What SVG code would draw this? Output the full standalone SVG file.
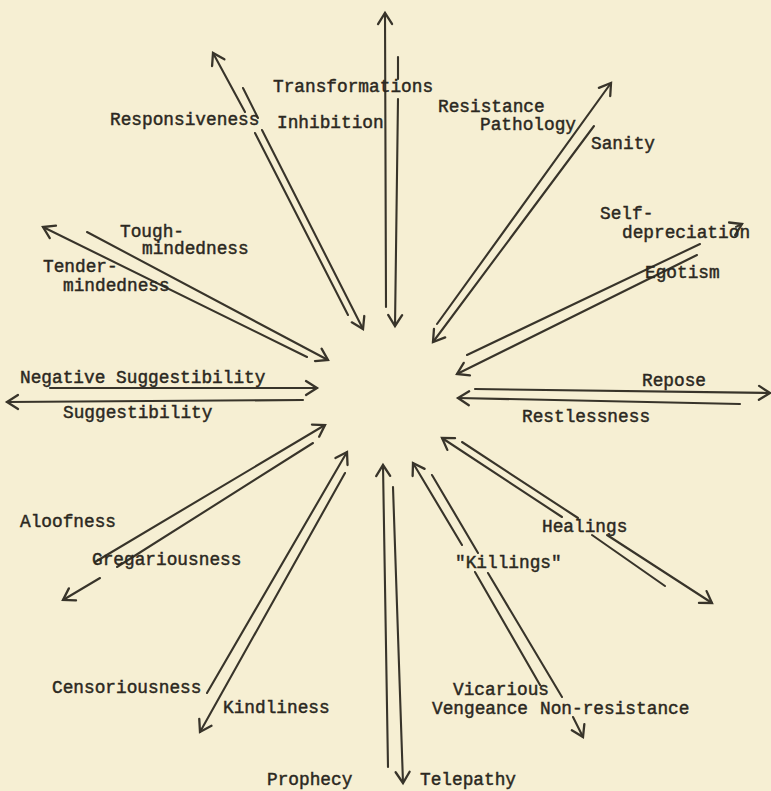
<svg xmlns="http://www.w3.org/2000/svg" width="771" height="791" viewBox="0 0 771 791">
<defs>
<style>
.t{font-family:"Liberation Mono","DejaVu Sans Mono",monospace;font-size:17.8px;fill:#2b2821;stroke:#2b2821;stroke-width:0.45px}
.c path{fill:none;stroke:#38342a;stroke-width:2.1;stroke-linecap:round}
.c path.a{marker-end:url(#ah)}
</style>
<marker id="ah" markerUnits="userSpaceOnUse" viewBox="-13 -10 15 20" markerWidth="15" markerHeight="20" refX="0" refY="0" orient="auto" overflow="visible">
<path d="M-11,-7 L0,0 L-11,7" fill="none" stroke="#38342a" stroke-width="2.3" stroke-linecap="round" stroke-linejoin="miter"/>
</marker>
</defs>
<rect width="771" height="791" fill="#f6efd3"/>
<g id="connectors" class="c">
<path class="a" d="M386 307 L385 13"/>
<path class="a" d="M398 57 L398 79 M398 99 L395 326"/>
<path class="a" d="M348 315 L255 133 M245 112 L213 53"/>
<path class="a" d="M243 88 L258 118 M262 130 L363 329"/>
<path class="a" d="M437 324 L611 83"/>
<path class="a" d="M594 126 L433 342"/>
<path d="M467 355 L700 244"/>
<path class="a" d="M736 226.9 L742 224"/>
<path class="a" d="M697 255 L457 374"/>
<path class="a" d="M475 389 L770 393"/>
<path class="a" d="M740 404 L458 398"/>
<path class="a" d="M50 388 L317 388"/>
<path class="a" d="M303 400 L7 402"/>
<path class="a" d="M307 357 L43 227"/>
<path class="a" d="M87 232 L328 360"/>
<path class="a" d="M95 562 L325 425"/>
<path class="a" d="M313 443 L117 567 M100 578 L63 600"/>
<path class="a" d="M207 693 L347 452"/>
<path class="a" d="M345 473 L200 732"/>
<path class="a" d="M388 767 L383 465"/>
<path class="a" d="M393 487 L403 783"/>
<path class="a" d="M540 685 L475 572 M462 545 L413 463"/>
<path class="a" d="M432 475 L478 553 M488 573 L562 697 M573 717 L583 737"/>
<path class="a" d="M665 586 L592 535 M562 517 L442 438"/>
<path class="a" d="M462 442 L578 518 M607 535 L712 603"/>
</g>
<g id="transformations"><text class="t" x="273" y="92">Transformations</text></g>
<g id="responsiveness"><text class="t" x="110" y="125">Responsiveness</text></g>
<g id="inhibition"><text class="t" x="277" y="128">Inhibition</text></g>
<g id="resistance"><text class="t" x="438" y="112">Resistance</text></g>
<g id="pathology"><text class="t" x="480" y="130">Pathology</text></g>
<g id="sanity"><text class="t" x="591" y="149">Sanity</text></g>
<g id="self-depreciation"><text class="t" x="600" y="219">Self-</text><text class="t" x="622" y="238">depreciation</text></g>
<g id="egotism"><text class="t" x="645" y="278">Egotism</text></g>
<g id="tough-mindedness"><text class="t" x="120" y="237">Tough-</text><text class="t" x="142" y="254">mindedness</text></g>
<g id="tender-mindedness"><text class="t" x="43" y="272">Tender-</text><text class="t" x="63" y="291">mindedness</text></g>
<g id="negative-suggestibility"><text class="t" x="20" y="383">Negative Suggestibility</text></g>
<g id="suggestibility"><text class="t" x="63" y="418">Suggestibility</text></g>
<g id="repose"><text class="t" x="642" y="386">Repose</text></g>
<g id="restlessness"><text class="t" x="522" y="422">Restlessness</text></g>
<g id="aloofness"><text class="t" x="20" y="527">Aloofness</text></g>
<g id="gregariousness"><text class="t" x="92" y="565">Gregariousness</text></g>
<g id="healings"><text class="t" x="542" y="532">Healings</text></g>
<g id="killings"><text class="t" x="455" y="568">"Killings"</text></g>
<g id="censoriousness"><text class="t" x="52" y="693">Censoriousness</text></g>
<g id="kindliness"><text class="t" x="223" y="713">Kindliness</text></g>
<g id="vicarious-vengeance"><text class="t" x="453" y="695">Vicarious</text><text class="t" x="432" y="714">Vengeance</text></g>
<g id="non-resistance"><text class="t" x="540" y="714">Non-resistance</text></g>
<g id="prophecy"><text class="t" x="267" y="785">Prophecy</text></g>
<g id="telepathy"><text class="t" x="420" y="785">Telepathy</text></g>
</svg>
